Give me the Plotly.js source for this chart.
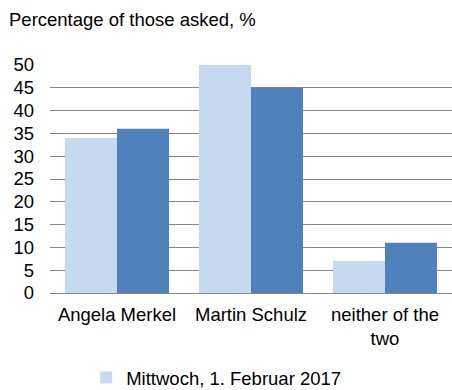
<!DOCTYPE html>
<html>
<head>
<meta charset="utf-8">
<script src="https://cdn.plot.ly/plotly-3.0.1.min.js"></script>
<style>html,body{margin:0;padding:0;background:#fff;}#chart{width:452px;height:390px;}</style>
</head>
<body>
<div id="chart"></div>
<script>
const categories = ["Angela Merkel", "Martin Schulz", "neither of the<br>two"];
const seriesNames = ["Mittwoch, 1. Februar 2017", "Series 2"];
const seriesLight = [34, 50, 7];
const seriesDark = [36, 45, 11];
const yTicks = [0, 5, 10, 15, 20, 25, 30, 35, 40, 45, 50];

const font = {family: "Liberation Sans, Arial, sans-serif", size: 18.5, color: "#000"};

const data = [
  {type: "bar", x: categories, y: seriesLight, name: seriesNames[0], marker: {color: "#c6d9f1"}, hoverinfo: "none"},
  {type: "bar", x: categories, y: seriesDark, name: seriesNames[1], marker: {color: "#4f81bd"}, showlegend: false, hoverinfo: "none"}
];

const layout = {
  width: 452, height: 390,
  margin: {l: 50, r: 0, t: 65, b: 97, autoexpand: false},
  paper_bgcolor: "#fff", plot_bgcolor: "#fff",
  font: font,
  barmode: "group", bargap: 0.224, bargroupgap: 0,
  title: {text: "Percentage of those asked, %", font: font, x: 9/452, xref: "container", xanchor: "left", y: 1 - 20/390, yref: "container", yanchor: "middle"},
  xaxis: {showgrid: false, showline: false, zeroline: false, ticks: "", tickfont: font, ticklabelstandoff: 8},
  yaxis: {range: [0, 50], tickvals: yTicks, ticktext: yTicks.map(String), showgrid: true, gridcolor: "#868686", gridwidth: 1, zeroline: true, zerolinecolor: "#868686", zerolinewidth: 1, showline: false, ticks: "", tickfont: font, ticklabelstandoff: 15, fixedrange: true},
  showlegend: true,
  legend: {orientation: "h", x: 0.09, xanchor: "left", y: 1 - 378/390, yref: "container", yanchor: "middle", font: font, bgcolor: "rgba(0,0,0,0)"}
};

Plotly.newPlot("chart", data, layout, {displayModeBar: false, staticPlot: true});
</script>
</body>
</html>
